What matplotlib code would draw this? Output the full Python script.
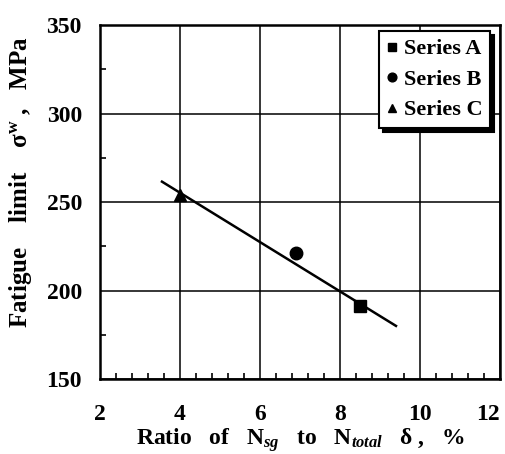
import matplotlib
matplotlib.use("Agg")
import matplotlib.pyplot as plt

plt.rcParams['font.family'] = ['Liberation Serif', 'DejaVu Serif']
plt.rcParams['font.weight'] = 'bold'
plt.rcParams['mathtext.fontset'] = 'custom'
plt.rcParams['mathtext.rm'] = 'Liberation Serif:bold'
plt.rcParams['mathtext.it'] = 'Liberation Serif:bold:italic'
plt.rcParams['mathtext.bf'] = 'Liberation Serif:bold'

# measured points (ratio delta %, fatigue limit MPa)
series_names = ["Series A", "Series B", "Series C"]
series_x = [8.5, 6.9, 4.0]
series_y = [191, 221, 254]
series_markers = ["s", "o", "^"]

# trend line end points
fit_x = [3.55, 9.4]
fit_y = [261.5, 180]

x_ticks = [2, 4, 6, 8, 10, 12]
y_ticks = [150, 200, 250, 300, 350]

fig = plt.figure(figsize=(5.06, 4.54), dpi=100)
ax = fig.add_axes([0.1976, 0.1652, 0.7905, 0.7797])

ax.plot(fit_x, fit_y, color='black', lw=1.8, zorder=3)
for name, x, y, m in zip(series_names, series_x, series_y, series_markers):
    ax.plot([x], [y], marker=m, ls='none', color='black', ms=9, label=name, zorder=4)

ax.set_xlim(2, 12)
ax.set_ylim(150, 350)
ax.set_xticks(x_ticks)
ax.set_yticks(y_ticks)
ax.set_xticks([2 + 0.4 * i for i in range(26)], minor=True)
ax.set_yticks([175, 225, 275, 325], minor=True)
ax.grid(True, which='major', color='black', lw=1.1)
ax.tick_params(which='both', direction='in', top=False, right=False)
ax.tick_params(which='major', length=0, labelsize=17)
ax.tick_params(axis='y', which='major', pad=13)
ax.tick_params(axis='x', which='major', pad=18)
ax.tick_params(which='minor', length=4, width=1.2)
for s in ax.spines.values():
    s.set_linewidth(1.8)
for lab in ax.get_xticklabels() + ax.get_yticklabels():
    lab.set_fontweight('bold')
# keep the last x label inside the canvas
ax.get_xticklabels()[-1].set_horizontalalignment('right')

ax.set_xlabel("Ratio   of   N$_{sg}$   to   N$_{total}$   δ ,   %",
              fontsize=17, fontweight='bold', labelpad=1)
ax.set_ylabel("Fatigue    limit    σ$^{\\mathrm{w}}$ ,   MPa",
              fontsize=18, fontweight='bold')
ax.yaxis.set_label_coords(-0.165, 0.555)

leg = ax.legend(loc='upper right', bbox_to_anchor=(0.975, 0.983), borderaxespad=0,
                fancybox=False, edgecolor='black', framealpha=1,
                shadow={'color': 'black', 'alpha': 1, 'ox': 3, 'oy': -3},
                handlelength=0.5, handletextpad=0.25, markerscale=0.7,
                prop={'family': 'Liberation Serif', 'weight': 'bold', 'size': 16},
                labelspacing=0.45, borderpad=0.35)
leg.get_frame().set_linewidth(1.5)

fig.savefig("out.png", dpi=100)
